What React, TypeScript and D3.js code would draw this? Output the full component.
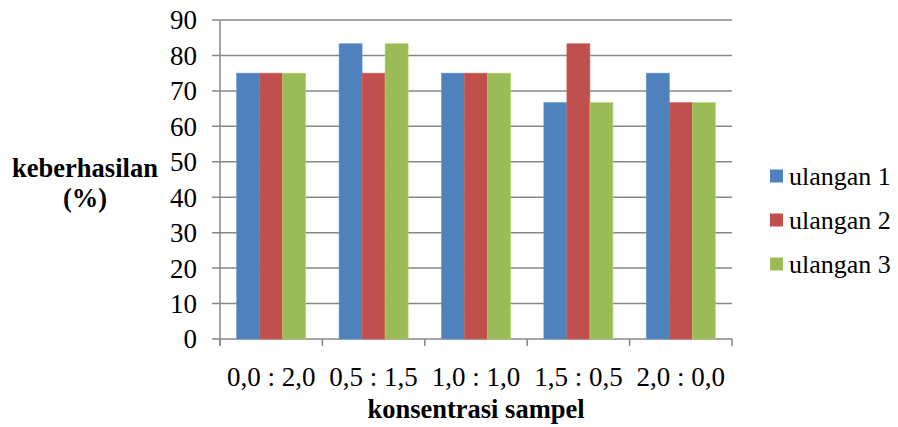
import React from 'react';
import * as d3 from 'd3';

const categories = ["0,0 : 2,0", "0,5 : 1,5", "1,0 : 1,0", "1,5 : 0,5", "2,0 : 0,0"];
const seriesNames = ["ulangan 1", "ulangan 2", "ulangan 3"];
const ulangan1 = [75, 83.3, 75, 66.7, 75];
const ulangan2 = [75, 75, 75, 83.3, 66.7];
const ulangan3 = [75, 83.3, 75, 66.7, 66.7];
const yTicks = [0, 10, 20, 30, 40, 50, 60, 70, 80, 90];
const colors = ["#4F81BD", "#C0504D", "#9BBB59"];

const W = 898;
const H = 427;
const margin = { left: 220, right: 166, top: 20, bottom: 88 };
const font = "Liberation Serif, Times New Roman, DejaVu Serif, serif";

export default function App() {
	const series = [ulangan1, ulangan2, ulangan3];
	const plotW = W - margin.left - margin.right;
	const plotH = H - margin.top - margin.bottom;

	const x = d3.scaleBand().domain(categories).range([0, plotW]).padding(0);
	const inner = d3.scaleBand().domain(seriesNames)
		.range([0, x.bandwidth()])
		.paddingInner(0)
		.paddingOuter(0.725);
	const y = d3.scaleLinear().domain([0, 90]).range([plotH, 0]);
	const txt = { fontFamily: font, fill: '#000' };

	return (
		<svg width={W} height={H} style={{ position: 'absolute', left: 0, top: 0 }}>
			<g transform={`translate(${margin.left},${margin.top})`}>
				{yTicks.map(t => (
					<line key={`g${t}`} x1={-8} x2={plotW} y1={y(t)} y2={y(t)} stroke="#878787" strokeWidth={1.5} />
				))}
				<line x1={0} x2={0} y1={0} y2={plotH + 7} stroke="#878787" strokeWidth={1.5} />
				{d3.range(categories.length + 1).map(i => (
					<line key={`t${i}`} x1={i * x.step()} x2={i * x.step()} y1={plotH} y2={plotH + 7} stroke="#878787" strokeWidth={1.5} />
				))}
				{series.map((vals, si) => (
					<g key={seriesNames[si]}>
						{vals.map((v, ci) => (
							<rect key={ci}
								x={(x(categories[ci]) ?? 0) + (inner(seriesNames[si]) ?? 0)}
								y={y(v)}
								width={inner.bandwidth()}
								height={plotH - y(v)}
								fill={colors[si]}
								stroke={d3.color(colors[si])!.brighter(0.4).toString()}
								strokeWidth={0.6} />
						))}
					</g>
				))}
				{yTicks.map(t => (
					<text key={`l${t}`} style={txt} x={-23} y={y(t)} dy="0.35em" textAnchor="end" fontSize={27}>{t}</text>
				))}
				{categories.map(c => (
					<text key={c} style={txt} x={(x(c) ?? 0) + x.bandwidth() / 2} y={plotH + 47} textAnchor="middle" fontSize={27}>{c}</text>
				))}
				<text style={txt} x={plotW / 2} y={plotH + 79} textAnchor="middle" fontSize={26.5} fontWeight="bold">konsentrasi sampel</text>
			</g>
			<text style={txt} x={85} y={177} textAnchor="middle" fontSize={26.5} fontWeight="bold">keberhasilan</text>
			<text style={txt} x={85} y={207} textAnchor="middle" fontSize={26.5} fontWeight="bold">(%)</text>
			{seriesNames.map((s, i) => (
				<g key={s} transform={`translate(770,${176 + i * 44})`}>
					<rect x={0} y={-6.5} width={13} height={13} fill={colors[i]} />
					<text style={txt} x={19} y={0} dy="0.35em" fontSize={26}>{s}</text>
				</g>
			))}
		</svg>
	);
}
